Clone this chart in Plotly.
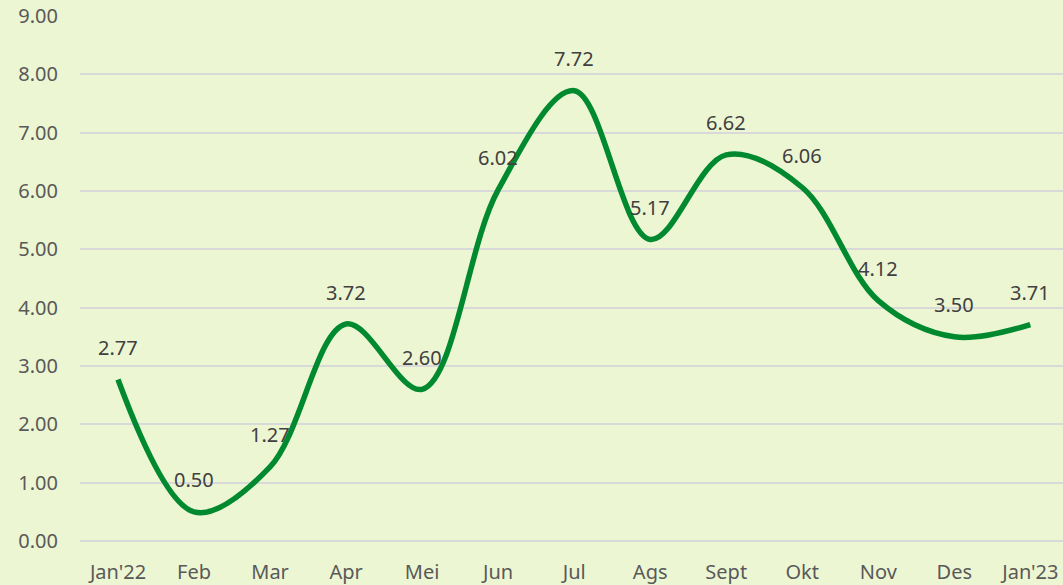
import plotly.graph_objects as go

months = ["Jan'22", "Feb", "Mar", "Apr", "Mei", "Jun", "Jul", "Ags", "Sept", "Okt", "Nov", "Des", "Jan'23"]
values = [2.77, 0.50, 1.27, 3.72, 2.60, 6.02, 7.72, 5.17, 6.62, 6.06, 4.12, 3.50, 3.71]
y_ticks = [0, 1, 2, 3, 4, 5, 6, 7, 8, 9]

BG = "#EDF6D3"
FONT = "Noto Sans"

fig = go.Figure()
fig.add_trace(go.Scatter(
    x=months, y=values, mode="lines",
    line=dict(color="#00892F", width=5.5, shape="spline", smoothing=1.0),
    hoverinfo="x+y",
))

for m, v in zip(months, values):
    fig.add_annotation(x=m, y=v, text=f"{v:.2f}", showarrow=False,
                       yshift=32, font=dict(family=FONT, size=20, color="#404040"))

fig.update_layout(
    width=1063, height=585,
    paper_bgcolor=BG, plot_bgcolor=BG,
    margin=dict(l=80, r=0, t=16, b=44),
    showlegend=False,
    font=dict(family=FONT, size=20, color="#595959"),
    xaxis=dict(
        type="category", range=[-0.5, 12.43],
        showgrid=False, zeroline=False, showline=False,
        tickfont=dict(family=FONT, size=20, color="#595959"),
        ticklabelstandoff=17,
    ),
    yaxis=dict(
        range=[0, 9], tickvals=y_ticks,
        ticktext=[f"{t:.2f}" for t in y_ticks],
        showgrid=True, gridcolor="#D9D9D9", gridwidth=2,
        zeroline=True, zerolinecolor="#D9D9D9", zerolinewidth=2,
        showline=False,
        tickfont=dict(family=FONT, size=20, color="#595959"),
        ticklabelstandoff=21,
    ),
)

fig.write_html("out.html", config={"displayModeBar": False},
               post_script="document.body.style.margin='0';document.body.style.background='" + BG + "';")
